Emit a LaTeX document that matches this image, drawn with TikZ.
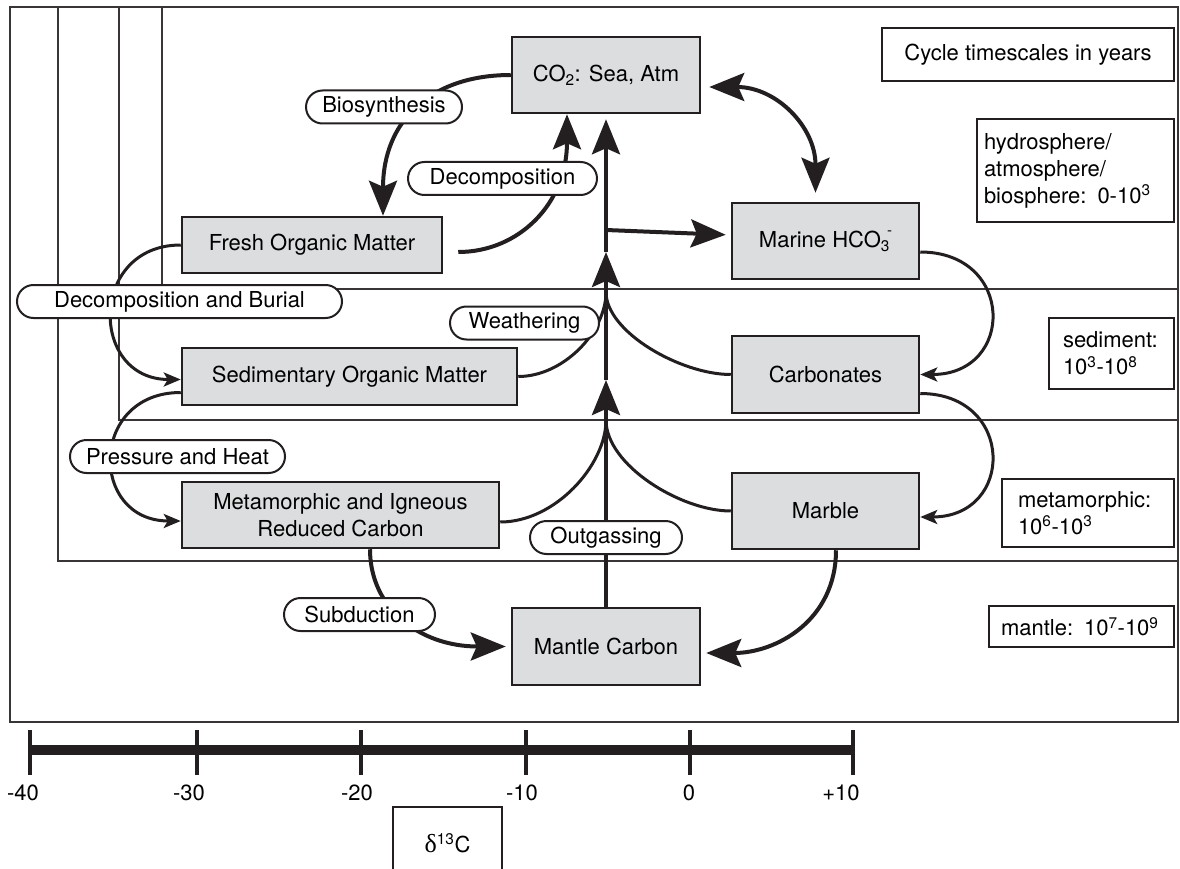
\documentclass[tikz,border=0pt]{standalone}
\usepackage{fontspec}
\setmainfont{TeX Gyre Heros}
\newfontfamily\greekfont{Liberation Serif}
\usepackage{tikz}
\usetikzlibrary{arrows.meta,shapes.misc}
\definecolor{poolgray}{RGB}{220,221,223}
\definecolor{ink}{RGB}{35,31,32}

\begin{document}
\begin{tikzpicture}
  [x=1pt,y=-1pt,
   font=\fontsize{22}{27}\selectfont,
   bigtip/.tip={Stealth[length=35pt,width=28pt,inset=6pt]},
   smalltip/.tip={Stealth[length=17pt,width=14pt,inset=4pt]},
   pool/.style={draw=ink,fill=poolgray,line width=2.5pt,align=center,inner sep=0pt},
   proc/.style={rounded rectangle,draw=ink,fill=white,line width=2pt,inner sep=0pt,minimum height=33pt},
   timebox/.style={draw=ink,fill=white,line width=2pt,align=left,inner sep=0pt},
   bigflow/.style={ink,line width=4pt,-bigtip},
   smallflow/.style={ink,line width=3pt,-smalltip},
   merge/.style={ink,line width=3pt}]

  \useasboundingbox (0,0) rectangle (1180,869);

  % reservoir frames
  \foreach \x/\y in {10/722,58/561,119/420,162/289}
    \draw[ink!90,line width=2pt] (\x,7) rectangle (1178,\y);

  \node[pool,minimum width=188pt,minimum height=76pt] (co2) at (606,75) {CO\textsubscript{2}: Sea, Atm};
  \node[pool,minimum width=260pt,minimum height=56pt] (fresh) at (312,245) {Fresh Organic Matter};
  \node[pool,minimum width=187pt,minimum height=76pt] (hco3) at (825.5,241) {Marine HCO\textsubscript{3}\kern-3pt\raisebox{12pt}{\fontsize{15}{15}\selectfont -}};
  \node[pool,minimum width=335pt,minimum height=57pt] (sed) at (349.5,376.5) {Sedimentary Organic Matter};
  \node[pool,minimum width=187pt,minimum height=77pt] (carb) at (825.5,374.5) {Carbonates};
  \node[pool,minimum width=317pt,minimum height=66pt] (meta) at (340.5,515) {Metamorphic and Igneous\\Reduced Carbon};
  \node[pool,minimum width=187pt,minimum height=76pt] (marble) at (825.5,511) {Marble};
  \node[pool,minimum width=188pt,minimum height=77pt] (mantle) at (606,646.5) {Mantle Carbon};

  \coordinate (jA) at (606,420);
  \coordinate (jB) at (606,292);
  \coordinate (upA) at (606,380);
  \coordinate (upB) at (606,252);
  \coordinate (br) at (606,230);

  % main column
  \draw[bigflow] (mantle.north) -- (upA);
  \draw[bigflow] (upA) -- (upB);
  \draw[bigflow,shorten >=5pt] (upB) -- (co2.south);
  \draw[bigflow,shorten >=5pt] (br) -- ([yshift=6pt]hco3.west);
  \draw[merge] (sed.east) .. controls +(45,0) and +(0,40) .. (jB);
  \draw[merge] (carb.west) .. controls +(-50,0) and +(0,40) .. (jB);
  \draw[merge] ([yshift=-7pt]meta.east) .. controls +(55,0) and +(0,45) .. (jA);
  \draw[merge] (marble.west) .. controls +(-50,0) and +(0,45) .. (jA);

  \draw[bigflow] (co2.west) .. controls +(-80,0) and +(0,-95) .. ([xshift=71pt]fresh.north);
  \draw[bigflow] ([xshift=15pt,yshift=-7pt]fresh.east) .. controls +(60,0) and +(0,90) .. ([xshift=-39pt]co2.south);
  \draw[ink,line width=4pt,bigtip-bigtip,shorten <=8pt,shorten >=9pt]
    ([yshift=-12pt]co2.east) .. controls +(75,0) and +(0,-75) .. ([xshift=-10pt]hco3.north);

  \draw[smallflow] (fresh.west) .. controls +(-92,0) and +(-92,0) .. ([yshift=-3pt]sed.west);
  \draw[smallflow] ([yshift=-16pt]sed.west) .. controls +(-92,0) and +(-92,0) .. ([yshift=-6pt]meta.west);
  \draw[smallflow] ([yshift=-11pt]hco3.east) .. controls +(95,0) and +(95,0) .. (carb.east);
  \draw[smallflow] ([yshift=-19pt]carb.east) .. controls +(95,0) and +(95,0) .. ([yshift=-6pt]marble.east);

  \draw[bigflow,shorten >=5pt] ([xshift=29.5pt]meta.south) .. controls +(0,60) and +(-90,0) .. (mantle.west);
  \draw[bigflow,shorten >=5pt] ([xshift=10.5pt]marble.south) .. controls +(0,70) and +(75,0) .. ([yshift=-6.5pt]mantle.east);

  % process labels
  \node[proc,minimum width=156pt] (bio) at (384,107) {Biosynthesis};
  \node[proc,minimum width=189pt] (decomp) at (502.5,178.5) {Decomposition};
  \node[proc,minimum width=325pt] (burial) at (179.5,301.5) {Decomposition and Burial};
  \node[proc,minimum width=149pt] (weath) at (524.5,323) {Weathering};
  \node[proc,minimum width=215pt] (heat) at (177.5,456.5) {Pressure and Heat};
  \node[proc,minimum width=152pt] (outgas) at (606,537.5) {Outgassing};
  \node[proc,minimum width=151pt] (subduct) at (359.5,614.5) {Subduction};

  % timescales
  \node[timebox,minimum width=292pt,minimum height=53pt,align=center] (cycle) at (1028,54.5) {Cycle timescales in years};
  \node[timebox,minimum width=197pt,minimum height=103pt,text width=183pt] (hydro) at (1075.5,170.5) {hydrosphere/\\atmosphere/\\biosphere: 0-10\textsuperscript{3}};
  \node[timebox,minimum width=125pt,minimum height=71pt,text width=97pt] (sedtime) at (1111.5,353.5) {sediment:\\10\textsuperscript{3}-10\textsuperscript{8}};
  \node[timebox,minimum width=172pt,minimum height=68pt,text width=140pt] (metatime) at (1088,513) {metamorphic:\\10\textsuperscript{6}-10\textsuperscript{3}};
  \node[timebox,minimum width=185pt,minimum height=41pt,text width=161pt] (mantletime) at (1081.5,626.5) {mantle: 10\textsuperscript{7}-10\textsuperscript{9}};

  % delta scale
  \draw[ink,line width=10pt] (30,750) -- (853,750);
  \foreach \x/\lx/\lab in {30/23/-40,197/189/-30,361/357/-20,526/522/-10,690/689/0,853/841/+10}{
    \draw[ink,line width=4pt] (\x,730) -- (\x,775);
    \node (t\x) at (\lx,793) {\lab};
  }
  \node[draw=ink,line width=2pt,minimum width=109pt,minimum height=72pt,inner sep=0pt] (d13c) at (447.5,843) {{\greekfont\fontsize{26}{26}\selectfont δ}\textsuperscript{13}C};
\end{tikzpicture}
\end{document}
